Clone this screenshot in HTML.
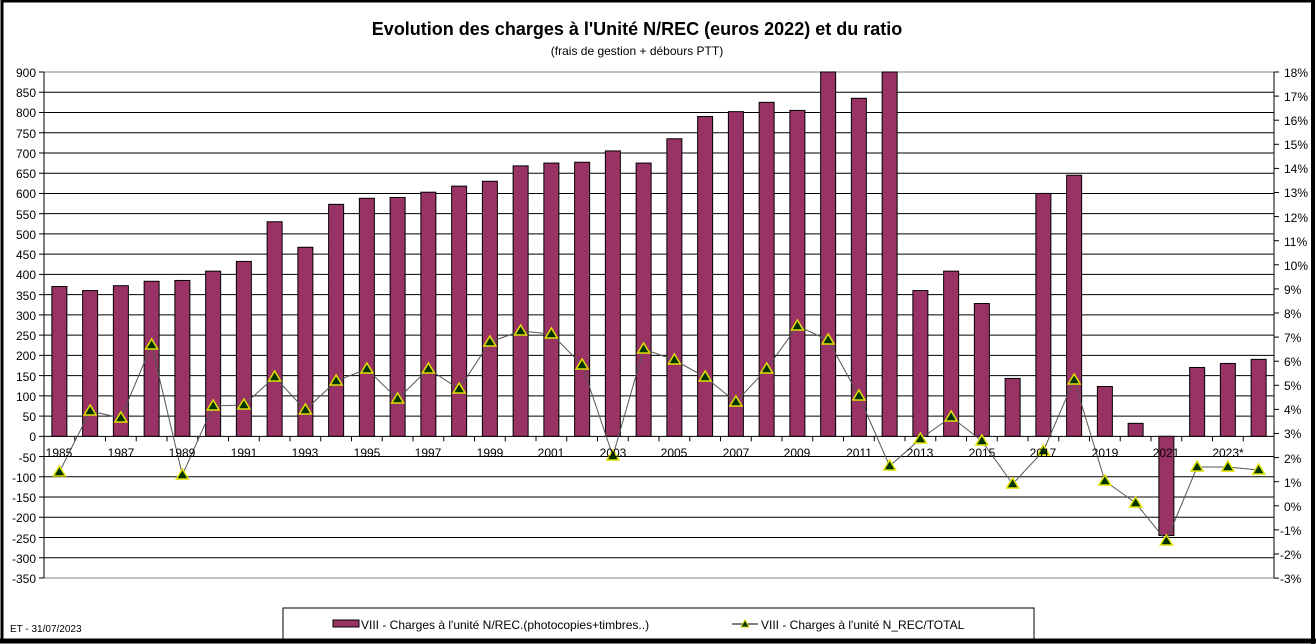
<!DOCTYPE html>
<html><head><meta charset="utf-8"><style>
body{margin:0;background:#fff;}
svg{display:block;font-family:"Liberation Sans",Arial,sans-serif;}
</style></head><body>
<svg id="c" width="1316" height="644" viewBox="0 0 1316 644" xmlns="http://www.w3.org/2000/svg">
<rect x="0" y="0" width="1316" height="644" fill="#fff"/>
<rect x="2" y="1" width="1311" height="640" fill="none" stroke="#000" stroke-width="3"/>
<line x1="0" y1="641" x2="1316" y2="641" stroke="#000" stroke-width="5"/>
<line x1="1313" y1="0" x2="1313" y2="644" stroke="#000" stroke-width="4"/>
<text x="637" y="35" font-size="18" font-weight="bold" text-anchor="middle">Evolution des charges à l'Unité N/REC (euros 2022) et du ratio</text>
<text x="637" y="55" font-size="12" text-anchor="middle">(frais de gestion + débours PTT)</text>
<g id="grid"></g>
<g id="bars"></g>
<g id="line"></g>
<g font-size="12" text-anchor="end" id="ly">
<text x="36" y="77">900</text><text x="36" y="97">850</text><text x="36" y="117">800</text><text x="36" y="138">750</text><text x="36" y="158">700</text><text x="36" y="178">650</text><text x="36" y="198">600</text><text x="36" y="219">550</text><text x="36" y="239">500</text><text x="36" y="259">450</text><text x="36" y="279">400</text><text x="36" y="300">350</text><text x="36" y="320">300</text><text x="36" y="340">250</text><text x="36" y="360">200</text><text x="36" y="381">150</text><text x="36" y="401">100</text><text x="36" y="421">50</text><text x="36" y="441">0</text><text x="36" y="462">-50</text><text x="36" y="482">-100</text><text x="36" y="502">-150</text><text x="36" y="522">-200</text><text x="36" y="543">-250</text><text x="36" y="563">-300</text><text x="36" y="583">-350</text>
</g>
<g font-size="12" text-anchor="start">
<text x="1284" y="77">18%</text><text x="1284" y="101">17%</text><text x="1284" y="125">16%</text><text x="1284" y="149">15%</text><text x="1284" y="173">14%</text><text x="1284" y="197">13%</text><text x="1284" y="222">12%</text><text x="1284" y="246">11%</text><text x="1284" y="270">10%</text><text x="1284" y="294">9%</text><text x="1284" y="318">8%</text><text x="1284" y="342">7%</text><text x="1284" y="366">6%</text><text x="1284" y="390">5%</text><text x="1284" y="414">4%</text><text x="1284" y="438">3%</text><text x="1284" y="463">2%</text><text x="1284" y="487">1%</text><text x="1284" y="511">0%</text><text x="1280" y="535">-1%</text><text x="1280" y="559">-2%</text><text x="1280" y="583">-3%</text>
</g>
<g font-size="12" text-anchor="middle">
<text x="59" y="457">1985</text><text x="121" y="457">1987</text><text x="182" y="457">1989</text><text x="244" y="457">1991</text><text x="305" y="457">1993</text><text x="367" y="457">1995</text><text x="428" y="457">1997</text><text x="490" y="457">1999</text><text x="551" y="457">2001</text><text x="613" y="457">2003</text><text x="674" y="457">2005</text><text x="736" y="457">2007</text><text x="797" y="457">2009</text><text x="859" y="457">2011</text><text x="920" y="457">2013</text><text x="982" y="457">2015</text><text x="1043" y="457">2017</text><text x="1105" y="457">2019</text><text x="1166" y="457">2021</text><text x="1228" y="457">2023*</text>
</g>
<rect x="283" y="608" width="751" height="31" fill="#fff" stroke="#000" stroke-width="1"/>
<rect x="333" y="620" width="26" height="7" fill="#993366" stroke="#000" stroke-width="1"/>
<text x="361" y="629" font-size="12">VIII - Charges à l'unité N/REC.(photocopies+timbres..)</text>
<line x1="732" y1="624" x2="758" y2="624" stroke="#000"/>
<polygon points="745,620 741,627 749,627" fill="#003300" stroke="#cccc00"/>
<text x="761" y="629" font-size="12">VIII - Charges à l'unité N_REC/TOTAL</text>
<text x="10" y="632" font-size="10">ET -  31/07/2023</text>
</svg>
<script>
var NS="http://www.w3.org/2000/svg";
function el(p,t,a){var e=document.createElementNS(NS,t);for(var k in a)e.setAttribute(k,a[k]);p.appendChild(e);return e;}
var L=44,R=1274,T=72,B=578,z=436.3,u=20.24/50;
var g=document.getElementById('grid');
for(var i=0;i<=25;i++){var y=T+i*20.24;el(g,'line',{x1:L,x2:R,y1:y,y2:y,stroke:(i==0||i==25)?'#808080':'#000','stroke-width':1});el(g,'line',{x1:L-5,x2:L,y1:y,y2:y,stroke:'#000'});}
for(var i=0;i<=21;i++){var y=T+i*24.1;el(g,'line',{x1:R,x2:R+5,y1:y,y2:y,stroke:'#000'});}
el(g,'line',{x1:L,x2:L,y1:T,y2:B,stroke:'#000'});
el(g,'line',{x1:R,x2:R,y1:T,y2:B,stroke:'#000'});
var bw=30.75;
for(var i=0;i<=40;i++){var x=L+i*bw;el(g,'line',{x1:x,x2:x,y1:z,y2:z+5,stroke:'#000'});}
var v=[370,360,372,383,385,408,432,530,467,573,588,590,603,618,630,668,675,677,705,675,735,790,802,825,805,900,835,900,360,408,328,143,600,645,123,32,-245,170,180,190];
var ly=[472,411,418,345,475,406,405,377,410,381,369,399,369,389,342,331,334,365,456,349,360,377,402,369,326,340,396,466,439,417,441,484,451,380,481,503,541,467,467,470];
var b=document.getElementById('bars');
v.forEach(function(val,i){var cx=L+bw*(i+0.5);var y1=z-val*u;var top=Math.min(y1,z),h=Math.abs(y1-z);el(b,'rect',{x:cx-7.5,y:top,width:15,height:h,fill:'#993366',stroke:'#000','stroke-width':1});});
var l=document.getElementById('line');
var pts=ly.map(function(y,i){return (L+bw*(i+0.5))+','+y}).join(' ');
el(l,'polyline',{points:pts,fill:'none',stroke:'#555','stroke-width':1});
ly.forEach(function(y,i){var cx=L+bw*(i+0.5);el(l,'polygon',{points:cx+','+(y-6)+' '+(cx-6)+','+(y+4)+' '+(cx+6)+','+(y+4),fill:'#003300',stroke:'#e0e000','stroke-width':1.5});});
</script>
</body></html>
